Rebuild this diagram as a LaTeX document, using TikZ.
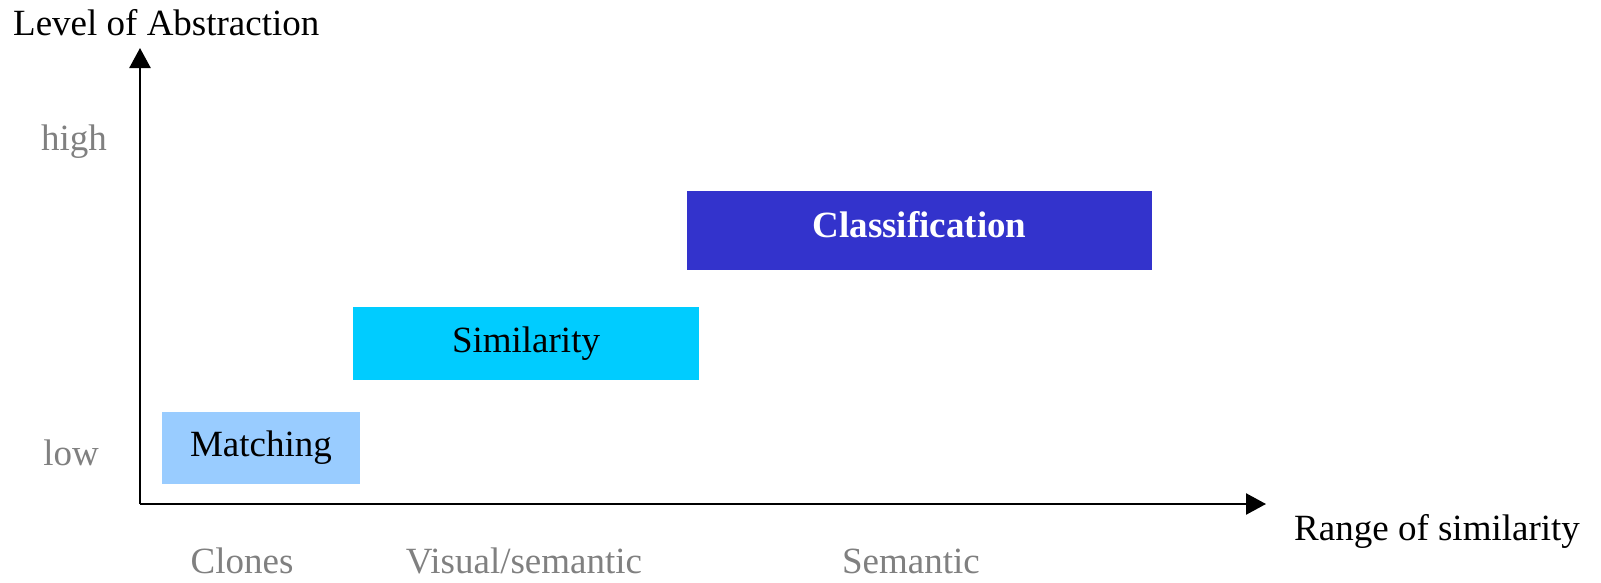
\documentclass[tikz,border=0pt]{standalone}
\usepackage{fontspec}
\setmainfont{Liberation Serif}
\usetikzlibrary{arrows.meta}
\definecolor{clsblue}{HTML}{3333CC}
\definecolor{simcyan}{HTML}{00CCFF}
\definecolor{matchblue}{HTML}{99CCFF}
\definecolor{lblgray}{HTML}{808080}
\tikzset{
  axis/.style={line width=2.5pt,-{Triangle[length=20pt,width=21pt]}},
  bar/.style={inner sep=0pt,outer sep=0pt,font=\fontsize{37}{44}\selectfont,text=black},
  lbl/.style={inner sep=0pt,font=\fontsize{37}{44}\selectfont,text=lblgray,anchor=base},
  title/.style={inner sep=0pt,font=\fontsize{37}{44}\selectfont,text=black,anchor=base west}
}
\begin{document}
\begin{tikzpicture}[x=1pt,y=-1pt]
\useasboundingbox (0,0) rectangle (1601,582);
\coordinate (O) at (140,504);
\coordinate (ytop) at (140,48);
\coordinate (xend) at (1266,504);
\draw[axis] (O) -- (ytop);
\draw[axis] (O) -- (xend);
\node[title] (ylabel) at (13,35) {Level of Abstraction};
\node[title] (xlabel) at (1294,540) {Range of similarity};
\node[lbl] (high) at (74,150) {high};
\node[lbl] (low) at (71,465) {low};
\node[lbl] (clones) at (242,573) {Clones};
\node[lbl] (visual) at (524,573) {Visual/semantic};
\node[lbl] (semantic) at (911,573) {Semantic};
\node[bar,fill=clsblue,minimum width=465pt,minimum height=79pt,text=white,font=\fontsize{37}{44}\selectfont\bfseries,text height=25pt,text depth=11.5pt] (cls) at (919.5,230.5) {Classification};
\node[bar,fill=simcyan,minimum width=346pt,minimum height=73pt] (sim) at (526,343.5) {Similarity};
\node[bar,fill=matchblue,minimum width=198pt,minimum height=72pt] (match) at (261,448) {Matching};
\end{tikzpicture}
\end{document}
